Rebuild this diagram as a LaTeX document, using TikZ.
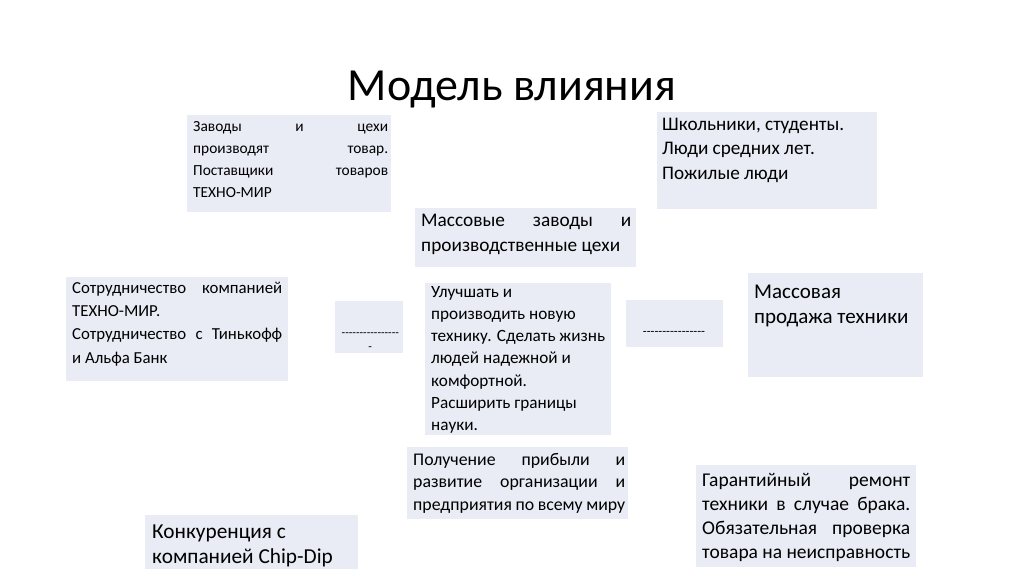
\documentclass[tikz,border=0pt]{standalone}
\usepackage{fontspec}
\setmainfont{Carlito}
\newfontfamily\dashfont{Carlito}
\definecolor{boxfill}{RGB}{233,235,245}
\newdimen\linew
\newcommand\jfl[1]{\hbox to\linew{\strut#1}}
\newcommand\lfl[1]{\hbox to\linew{\strut#1\hfil}}
\newcommand\cfl[1]{\hbox to\linew{\hfil\strut#1\hfil}}
\newcommand\blk[2]{\linew=#1\relax\vtop{#2}}
\begin{document}
\begin{tikzpicture}[x=1pt,y=-1pt,
  box/.style={fill=boxfill, draw=none, inner sep=0pt, anchor=north west},
  txt/.style={anchor=north west, inner sep=0pt, text=black}]
\useasboundingbox[fill=white] (0,0) rectangle (1024,574);
% title
\node[font=\fontsize{46}{50}\selectfont, anchor=base, inner sep=0pt] (title) at (512,100) {Модель влияния};
% boxes
\node[box, minimum width=204pt, minimum height=97pt] (b1) at (187,115) {};
\node[box, minimum width=220pt, minimum height=97pt] (b2) at (657,112) {};
\node[box, minimum width=221pt, minimum height=59pt] (b3) at (415,208) {};
\node[box, minimum width=222pt, minimum height=104pt] (b4) at (66,277) {};
\node[box, minimum width=68pt, minimum height=52pt] (b5) at (335,301) {};
\node[box, minimum width=186pt, minimum height=152pt] (b6) at (425,283) {};
\node[box, minimum width=97pt, minimum height=47pt] (b7) at (626,300) {};
\node[box, minimum width=175pt, minimum height=104pt] (b8) at (748,273) {};
\node[box, minimum width=221pt, minimum height=72pt] (b9) at (407,447) {};
\node[box, minimum width=220pt, minimum height=102pt] (b10) at (696,465) {};
\node[box, minimum width=213pt, minimum height=54pt] (b11) at (145,515) {};
% texts
\node[txt, font=\fontsize{15.4}{22.2}\selectfont] (t1) at (193,115.5)
  {\blk{195pt}{\jfl{Заводы и цехи}\jfl{производят товар.}\jfl{Поставщики товаров}\lfl{ТЕХНО-МИР}}};
\node[txt, font=\fontsize{19.2}{24.5}\selectfont] (t2) at (662,112.8)
  {\blk{210pt}{\lfl{Школьники, студенты.}\lfl{Люди средних лет.}\lfl{Пожилые люди}}};
\node[txt, font=\fontsize{19.3}{25}\selectfont] (t3) at (421,209.2)
  {\blk{210pt}{\jfl{Массовые заводы и}\lfl{производственные цехи}}};
\node[txt, font=\fontsize{16.8}{23.3}\selectfont] (t4) at (72,276.7)
  {\blk{210pt}{\jfl{Сотрудничество компанией}\lfl{ТЕХНО-МИР.}\jfl{Сотрудничество с Тинькофф}\lfl{и Альфа Банк}}};
\node[txt, font=\dashfont\fontsize{11.7}{14}\selectfont] (t5) at (341.5,326.2)
  {\blk{57pt}{\cfl{----------------}\cfl{-}}};
\node[txt, font=\fontsize{17.2}{22.2}\selectfont] (t6) at (431,281.5)
  {\blk{178pt}{\lfl{Улучшать и}\lfl{производить новую}\lfl{технику. Сделать жизнь}\lfl{людей надежной и}\lfl{комфортной.}\lfl{Расширить границы}\lfl{науки.}}};
\node[anchor=base, inner sep=0pt, font=\dashfont\fontsize{12.7}{14}\selectfont] (t7) at (674,335) {----------------};
\node[txt, font=\fontsize{21}{25}\selectfont] (t8) at (754,280.8)
  {\blk{170pt}{\lfl{Массовая}\lfl{продажа техники}}};
\node[txt, font=\fontsize{17.8}{22.8}\selectfont] (t9) at (413,449)
  {\blk{212pt}{\jfl{Получение прибыли и}\jfl{развитие организации и}\lfl{предприятия по всему миру}}};
\node[txt, font=\fontsize{19.5}{24}\selectfont] (t10) at (702,469.9)
  {\blk{208pt}{\jfl{Гарантийный ремонт}\jfl{техники в случае брака.}\jfl{Обязательная проверка}\lfl{товара на неисправность}}};
\node[txt, font=\fontsize{21.3}{25}\selectfont] (t11) at (152,520.8)
  {\blk{205pt}{\lfl{Конкуренция с}\lfl{компанией Chip-Dip}}};
\end{tikzpicture}
\end{document}
